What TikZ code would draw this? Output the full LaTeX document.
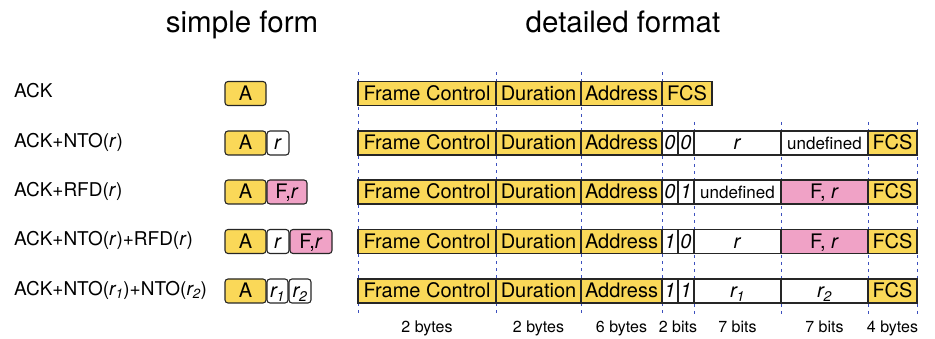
\documentclass[tikz,border=0pt]{standalone}
\usepackage{fontspec}
\setmainfont{TeX Gyre Heros}
\usetikzlibrary{positioning}
\definecolor{ackyellow}{RGB}{250,216,88}
\definecolor{rfdpink}{RGB}{240,162,198}
\definecolor{gridblue}{RGB}{60,80,190}
\pgfdeclarelayer{background}
\pgfsetlayers{background,main}

\begin{document}
\begin{tikzpicture}[
  x=1pt, y=-1pt,
  font=\fontsize{19}{22}\selectfont,
  fld/.style={
    draw=black!85,
    line width=1.1pt,
    outer sep=0pt,
    inner sep=0pt,
    minimum height=24pt,
    text height=14pt,
    text depth=0pt,
    font=\fontsize{20}{23}\selectfont,
    anchor=west
  },
  yel/.style={fld, fill=ackyellow},
  pnk/.style={fld, fill=rfdpink},
  wht/.style={fld, fill=white},
  sbox/.style={fld, rounded corners=3pt},
  small/.style={font=\fontsize{17}{20}\selectfont},
  title/.style={anchor=base, font=\fontsize{29.5}{34}\selectfont},
  lbl/.style={anchor=base west, inner sep=0pt},
  size/.style={anchor=base, font=\fontsize{16}{18}\selectfont},
  grid/.style={gridblue, dash pattern=on 3pt off 4pt, line width=0.8pt}
]
\useasboundingbox (0,0) rectangle (935,339);

\node[title] (ttlsimple) at (242,33) {simple form};
\node[title] (ttldetail) at (623,33) {detailed format};

\node[lbl] (lack) at (14,98) {ACK};
\node[lbl] (lnto) at (14,147.5) {ACK+NTO(\textit{r})};
\node[lbl] (lrfd) at (14,196.5) {ACK+RFD(\textit{r})};
\node[lbl] (lboth) at (14,246) {ACK+NTO(\textit{r})+RFD(\textit{r})};
\node[lbl] (ltwo) at (14,295.5) {ACK+NTO(\textit{r\textsubscript{1}})+NTO(\textit{r\textsubscript{2}})};

\node[sbox, fill=ackyellow, minimum width=41pt] (sa1) at (225,93.5) {A};
\node[sbox, fill=ackyellow, minimum width=41pt] (sa2) at (225,143) {A};
\node[sbox, fill=white, minimum width=22pt, right=1pt of sa2] (sr2) {\textit{r}};
\node[sbox, fill=ackyellow, minimum width=41pt] (sa3) at (225,192) {A};
\node[sbox, fill=rfdpink, minimum width=40pt, right=1pt of sa3] (sf3) {F,\textit{r}};
\node[sbox, fill=ackyellow, minimum width=41pt] (sa4) at (225,241.5) {A};
\node[sbox, fill=white, minimum width=22pt, right=1pt of sa4] (sr4) {\textit{r}};
\node[sbox, fill=rfdpink, minimum width=42pt, right=1pt of sr4] (sf4) {F,\textit{r}};
\node[sbox, fill=ackyellow, minimum width=41pt] (sa5) at (225,291) {A};
\node[sbox, fill=white, minimum width=21pt, right=1pt of sa5] (sra5) {\textit{r\textsubscript{1}}};
\node[sbox, fill=white, minimum width=22pt, right=1pt of sra5] (srb5) {\textit{r\textsubscript{2}}};

\foreach \i/\y in {1/93.5,2/143,3/192,4/241.5,5/291} {
  \node[yel, minimum width=138pt] (fc\i) at (358,\y) {Frame Control};
  \node[yel, minimum width=85pt, right=0pt of fc\i] (du\i) {Duration};
  \node[yel, minimum width=81pt, right=0pt of du\i] (ad\i) {Address};
}

\node[yel, minimum width=50pt, right=0pt of ad1] (fcs1) {FCS};

\node[wht, minimum width=16pt, right=0pt of ad2] (ba2) {\textit{0}};
\node[wht, minimum width=16pt, right=0pt of ba2] (bb2) {\textit{0}};
\node[wht, minimum width=87pt, right=0pt of bb2] (ra2) {\textit{r}};
\node[wht, small, minimum width=87pt, right=0pt of ra2] (rb2) {undefined};
\node[yel, minimum width=49pt, right=0pt of rb2] (fcs2) {FCS};

\node[wht, minimum width=16pt, right=0pt of ad3] (ba3) {\textit{0}};
\node[wht, minimum width=16pt, right=0pt of ba3] (bb3) {\textit{1}};
\node[wht, small, minimum width=87pt, right=0pt of bb3] (ra3) {undefined};
\node[pnk, minimum width=87pt, right=0pt of ra3] (rb3) {F, \textit{r}};
\node[yel, minimum width=49pt, right=0pt of rb3] (fcs3) {FCS};

\node[wht, minimum width=16pt, right=0pt of ad4] (ba4) {\textit{1}};
\node[wht, minimum width=16pt, right=0pt of ba4] (bb4) {\textit{0}};
\node[wht, minimum width=87pt, right=0pt of bb4] (ra4) {\textit{r}};
\node[pnk, minimum width=87pt, right=0pt of ra4] (rb4) {F, \textit{r}};
\node[yel, minimum width=49pt, right=0pt of rb4] (fcs4) {FCS};

\node[wht, minimum width=16pt, right=0pt of ad5] (ba5) {\textit{1}};
\node[wht, minimum width=16pt, right=0pt of ba5] (bb5) {\textit{1}};
\node[wht, minimum width=87pt, right=0pt of bb5] (ra5) {\textit{r\textsubscript{1}}};
\node[wht, minimum width=87pt, right=0pt of ra5] (rb5) {\textit{r\textsubscript{2}}};
\node[yel, minimum width=49pt, right=0pt of rb5] (fcs5) {FCS};

\begin{pgfonlayer}{background}
\draw[grid] ([yshift=9pt]fc1.north west) -- ([yshift=-11pt]fc5.south west);
\draw[grid] ([yshift=9pt]du1.north west) -- ([yshift=-11pt]du5.south west);
\draw[grid] ([yshift=9pt]ad1.north west) -- ([yshift=-11pt]ad5.south west);
\draw[grid] ([yshift=9pt]fcs1.north west) -- ([yshift=-11pt]ba5.south west);
\draw[grid] ([yshift=9pt]ra2.north west) -- ([yshift=-11pt]ra5.south west);
\draw[grid] ([yshift=9pt]rb2.north west) -- ([yshift=-11pt]rb5.south west);
\draw[grid] ([yshift=9pt]fcs2.north west) -- ([yshift=-11pt]fcs5.south west);
\draw[grid] ([yshift=9pt]fcs2.north east) -- ([yshift=-11pt]fcs5.south east);
\end{pgfonlayer}

\coordinate (szrow) at (0,333);
\node[size] (sz1) at (fc5.south |- szrow) {2 bytes};
\node[size] (sz2) at (du5.south |- szrow) {2 bytes};
\node[size] (sz3) at (ad5.south |- szrow) {6 bytes};
\node[size] (sz4) at (ba5.east |- szrow) {2 bits};
\node[size] (sz5) at (ra5.south |- szrow) {7 bits};
\node[size] (sz6) at (rb5.south |- szrow) {7 bits};
\node[size] (sz7) at (fcs5.south |- szrow) {4 bytes};
\end{tikzpicture}
\end{document}
